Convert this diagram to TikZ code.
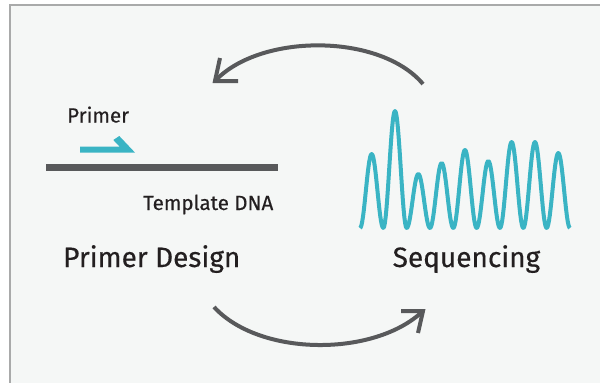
\documentclass[tikz,border=0pt]{standalone}
\usepackage{fontspec}
\setmainfont{Fira Sans}[FakeBold=0.4]
\definecolor{panelbg}{HTML}{F5F7F6}
\definecolor{panelrule}{HTML}{A9AAAA}
\definecolor{strand}{HTML}{58595B}
\definecolor{teal}{HTML}{3AB4C4}
\definecolor{ink}{HTML}{231F20}
\begin{document}
\begin{tikzpicture}[x=1pt,y=-1pt,
  cyclearrow/.style={draw=strand,line width=4pt,line cap=butt,line join=miter},
  label/.style={text=ink,inner sep=0pt,anchor=base west},
  smalllabel/.style={label,font=\fontsize{20.5}{24}\selectfont},
  biglabel/.style={label,font=\fontsize{28}{32}\selectfont},
  trace/.style={draw=teal,line width=4pt,line join=round,line cap=butt}]
\useasboundingbox (0,0) rectangle (600,383);
\fill[white] (0,0) rectangle (600,383);
% panel with a rule along its top and left edges
\fill[panelbg] (10,5) rectangle (600,383);
\draw[panelrule,line width=1.5pt] (10,383) -- (10,5) -- (600,5);

% template strand and primer
\coordinate (tplA) at (46,167);
\coordinate (tplB) at (278,167);
\draw[strand,line width=7pt] (tplA) -- (tplB);
\fill[teal] (80,146.7) -- (119.7,146.7) -- (113.3,140) -- (119.3,136)
  -- (135,152.6) -- (80,152.6) -- cycle;

\node[smalllabel] (primer) at (67,122.5) {Primer};
\node[smalllabel] (template) at (143,210) {Template DNA};
\node[biglabel] (design) at (63,267) {Primer Design};
\node[biglabel] (seq) at (392.5,267) {Sequencing};

% sequencing trace: nine peaks of varying height
\draw[trace] (360,228)
  \foreach \h [count=\i from 0] in {74,117,54,65,78,67,86,86,75} {
    -- plot[domain={360+23.33*\i}:{360+23.33*(\i+1)},samples=31,variable=\t]
      (\t,{228-\h*(1-cos(360*(\t-360-23.33*\i)/23.33))/2})
  };

% cycle arrows
\coordinate (topS) at (423,84);
\coordinate (topE) at (215,81);
\draw[cyclearrow] (topS) .. controls (380,33) and (260,33) .. (topE);
\draw[cyclearrow] (220,58) -- (topE) -- (238,81);

\coordinate (botS) at (214,307);
\coordinate (botE) at (423,311);
\draw[cyclearrow] (botS) .. controls (260,357) and (375,357) .. (botE);
\draw[cyclearrow] (401,311) -- (botE) -- (418,333);
\end{tikzpicture}
\end{document}
